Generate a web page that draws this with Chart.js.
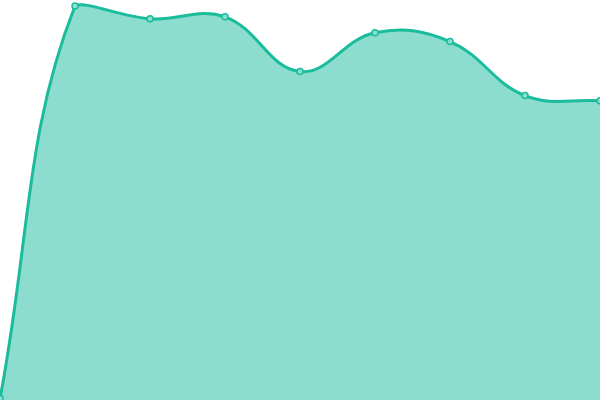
<!DOCTYPE html>
<html>
<head>
<meta charset="utf-8">
<script src="https://cdn.jsdelivr.net/npm/chart.js@4"></script>
<style>
    html, body { margin: 0; padding: 0; background: #fff; }
    #area-chart { display: block; }
</style>
</head>
<body>
<div style="width:600px;height:400px;">
    <canvas id="area-chart"></canvas>
</div>
<script>
const labels = ["1", "2", "3", "4", "5", "6", "7", "8", "9"];
const values = [0.4, 98.5, 95.3, 95.8, 82.1, 91.8, 89.6, 76.1, 74.8];

const ctx = document.getElementById("area-chart");

const data = {
    labels,
    datasets: [
        {
            data: values,
            fill: true,
            borderColor: "#1abc9c",
            backgroundColor: "rgba(26, 188, 156, 0.5)",
            borderWidth: 3,
            pointRadius: 3,
            pointBorderWidth: 1.5,
            pointBackgroundColor: "#8ce0cf",
            pointBorderColor: "#1abc9c",
            tension: 0.4,
        },
    ],
};

const config = {
    type: "line",
    data,
    options: {
        responsive: true,
        maintainAspectRatio: false,
        animation: false,
        layout: { padding: 0, autoPadding: false },
        plugins: {
            legend: { display: false },
            tooltip: { enabled: false },
        },
        scales: {
            x: { display: false, offset: false },
            y: { display: false, min: 0, max: 100 },
        },
    },
};

new Chart(ctx, config);
</script>
</body>
</html>
